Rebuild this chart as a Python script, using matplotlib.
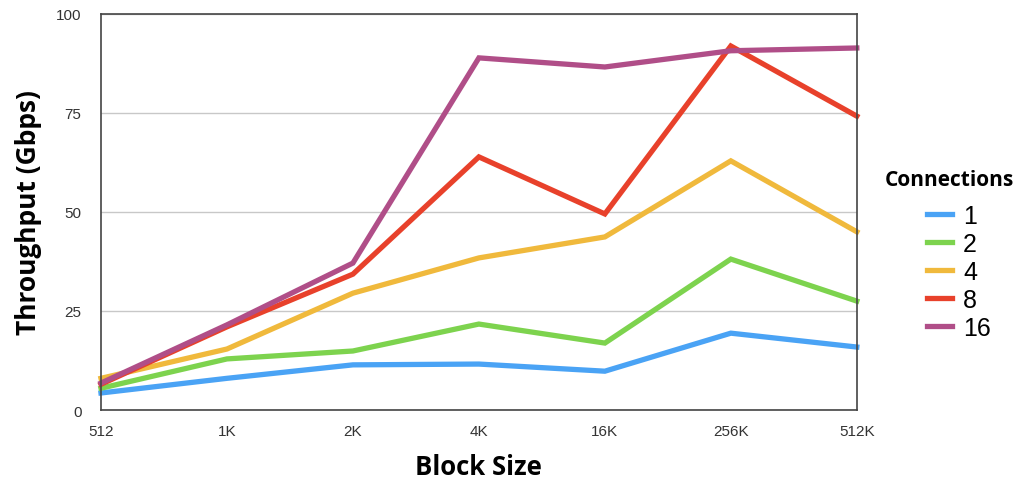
import matplotlib
matplotlib.use('Agg')
import matplotlib.pyplot as plt

# Block sizes on the x axis
block_sizes = ['512', '1K', '2K', '4K', '16K', '256K', '512K']

# Throughput (Gbps) per number of connections
conn_1 = [4.3, 8.0, 11.4, 11.6, 9.8, 19.4, 15.9]
conn_2 = [5.5, 12.9, 14.9, 21.7, 16.9, 38.1, 27.5]
conn_4 = [8.0, 15.4, 29.5, 38.4, 43.7, 62.9, 45.0]
conn_8 = [6.5, 21.0, 34.3, 63.9, 49.5, 91.9, 74.2]
conn_16 = [6.8, 21.5, 37.1, 88.9, 86.6, 90.7, 91.4]

series = [('1', conn_1, '#4aa3f5'),
          ('2', conn_2, '#7dd34e'),
          ('4', conn_4, '#f0b93c'),
          ('8', conn_8, '#e8412b'),
          ('16', conn_16, '#b04e88')]

fig = plt.figure(figsize=(10.2, 4.81), dpi=100)
ax = fig.add_axes([0.099, 0.1455, 0.741, 0.8235])

x = list(range(len(block_sizes)))
for label, vals, color in series:
    ax.plot(x, vals, color=color, linewidth=3.8, label=label,
            solid_joinstyle='miter', clip_on=False)

ax.set_xlim(0, len(block_sizes) - 1)
ax.set_ylim(0, 100)
ax.set_xticks(x)
ax.set_xticklabels(block_sizes)
ax.set_yticks([0, 25, 50, 75, 100])
ax.tick_params(length=0, labelsize=11, colors='#333333', pad=10)
ax.tick_params(axis='y', pad=14)
for lbl in ax.get_xticklabels() + ax.get_yticklabels():
    lbl.set_family('Liberation Sans')

ax.grid(axis='y', color='#c8c8c8', linewidth=1)
ax.set_axisbelow(True)
for s in ax.spines.values():
    s.set_color('#444444')
    s.set_linewidth(1.2)

ax.set_xlabel('Block Size', fontsize=18.5, fontweight='bold', family='Open Sans', labelpad=11)
ax.set_ylabel('Throughput (Gbps)', fontsize=19, fontweight='bold', family='Open Sans', labelpad=10)

# legend title as separate text, entries indented under it
fig.text(885 / 1020, 1 - 181 / 481, 'Connections', fontsize=15, fontweight='bold',
         family='Open Sans', ha='left', va='center')
leg = ax.legend(loc='upper left', bbox_to_anchor=(927 / 1020, 1 - 205 / 481),
                bbox_transform=fig.transFigure, frameon=False,
                handlelength=1.0, handletextpad=0.45, borderpad=0, borderaxespad=0,
                labelspacing=0.16, prop={'family': 'Liberation Sans', 'size': 18})

fig.savefig('out.png', dpi=100)
